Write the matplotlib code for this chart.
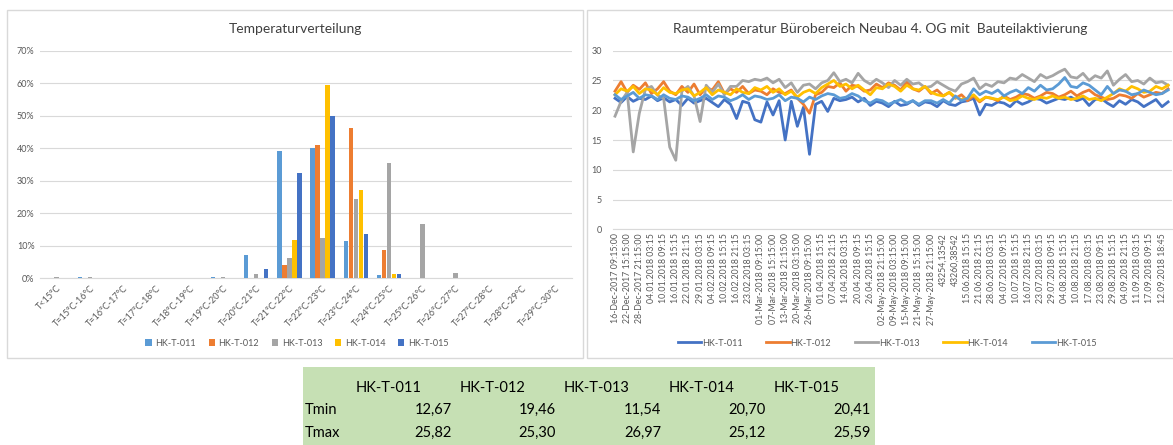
import numpy as np
import matplotlib
matplotlib.use("Agg")
import matplotlib.pyplot as plt
from matplotlib.patches import Rectangle

plt.rcParams['font.family'] = ['Lato', 'DejaVu Sans']

# ---- data: temperature distribution (share of time, %)
categories = ['T<15°C', 'T=15°C-16°C', 'T=16°C-17°C', 'T=17°C-18°C', 'T=18°C-19°C',
              'T=19°C-20°C', 'T=20°C-21°C', 'T=21°C-22°C', 'T=22°C-23°C', 'T=23°C-24°C',
              'T=24°C-25°C', 'T=25°C-26°C', 'T=26°C-27°C', 'T=27°C-28°C', 'T=28°C-29°C',
              'T=29°C-30°C']
series_names = ['HK-T-011', 'HK-T-012', 'HK-T-013', 'HK-T-014', 'HK-T-015']
share_011 = [0, 0.2, 0, 0, 0, 0.3, 7.2, 39.2, 40.0, 11.3, 1.0, 0, 0, 0, 0, 0]
share_012 = [0, 0, 0, 0, 0, 0, 0, 3.9, 41.1, 46.2, 8.5, 0, 0, 0, 0, 0]
share_013 = [0.4, 0.2, 0.1, 0.1, 0, 0.3, 1.3, 6.3, 12.3, 24.4, 35.3, 16.7, 1.5, 0, 0, 0]
share_014 = [0, 0, 0, 0, 0, 0, 0, 11.6, 59.5, 27.2, 1.3, 0, 0, 0, 0, 0]
share_015 = [0, 0, 0, 0, 0, 0, 2.8, 32.3, 49.9, 13.5, 1.3, 0, 0, 0, 0, 0]

# ---- data: room temperature time series (read off roughly, 2 values per label step)
time_labels = ['16-Dec-2017 09:15:00', '22-Dec-2017 15:15:00', '28-Dec-2017 21:15:00',
               '04.01.2018 03:15', '10.01.2018 09:15', '16.01.2018 15:15', '22.01.2018 21:15',
               '29.01.2018 03:15', '04.02.2018 09:15', '10.02.2018 15:15', '16.02.2018 21:15',
               '23.02.2018 03:15', '01-Mar-2018 09:15:00', '07-Mar-2018 15:15:00',
               '13-Mar-2018 21:15:00', '20-Mar-2018 03:15:00', '26-Mar-2018 09:15:00',
               '01.04.2018 15:15', '07.04.2018 21:15', '14.04.2018 03:15', '20.04.2018 09:15',
               '26.04.2018 15:15', '02-May-2018 21:15:00', '09-May-2018 03:15:00',
               '15-May-2018 09:15:00', '21-May-2018 15:15:00', '27-May-2018 21:15:00',
               '43254,13542', '43260,38542', '15.06.2018 15:15', '21.06.2018 21:15',
               '28.06.2018 03:15', '04.07.2018 09:15', '10.07.2018 15:15', '16.07.2018 21:15',
               '23.07.2018 03:15', '29.07.2018 09:15', '04.08.2018 15:15', '10.08.2018 21:15',
               '17.08.2018 03:15', '23.08.2018 09:15', '29.08.2018 15:15', '04.09.2018 21:15',
               '11.09.2018 03:15', '17.09.2018 09:15', '12.09.2018 18:45']

temp_011 = [22.0, 21.3, 22.3, 21.5, 22.0, 21.8, 22.4, 21.6, 22.1, 21.4,
            21.8, 20.8, 22.0, 21.2, 21.6, 22.0, 21.3, 20.6, 21.8, 21.0,
            18.6, 21.5, 21.2, 18.4, 18.0, 21.4, 19.2, 21.6, 15.0, 21.5,
            17.3, 20.5, 12.6, 21.0, 21.5, 19.8, 22.0, 21.6, 21.8, 22.2,
            21.4, 22.0, 20.8, 21.5, 21.2, 20.6, 21.5, 20.8, 21.0, 21.6,
            20.8, 21.4, 21.2, 20.6, 21.6, 21.0, 20.8, 21.4, 21.6, 22.0,
            19.2, 21.0, 20.8, 21.4, 21.2, 20.6, 21.6, 21.0, 21.4, 22.0,
            21.8, 21.2, 21.6, 22.0, 21.8, 22.2, 21.6, 22.0, 20.8, 21.8,
            22.0, 21.2, 20.6, 21.6, 21.0, 21.8, 21.4, 20.6, 21.2, 21.8,
            20.6, 21.4]
temp_012 = [23.2, 24.8, 23.0, 24.2, 23.5, 24.6, 22.8, 23.6, 24.8, 23.2,
            22.6, 24.0, 23.0, 24.4, 22.6, 23.8, 23.4, 24.8, 22.8, 23.6,
            23.0, 24.0, 22.8, 23.4, 23.2, 22.6, 23.6, 23.0, 22.8, 23.4,
            22.0, 21.0, 19.5, 22.6, 23.0, 24.0, 23.8, 24.6, 23.2, 24.2,
            24.0, 23.2, 23.4, 24.4, 23.8, 24.6, 24.2, 23.4, 24.8, 23.6,
            23.2, 24.0, 22.8, 23.4, 22.4, 23.0, 22.0, 22.6, 21.6, 22.4,
            21.4, 22.2, 22.0, 21.6, 22.4, 21.8, 22.2, 22.8, 22.6, 22.0,
            22.4, 23.0, 22.8, 22.2, 22.6, 23.2, 22.4, 23.0, 23.4, 22.6,
            22.2, 21.8, 22.0, 22.6, 22.4, 22.0, 22.8, 22.2, 22.6, 23.0,
            22.8, 23.6]
temp_013 = [19.0, 21.5, 23.0, 13.0, 19.5, 23.5, 24.0, 22.5, 22.0, 13.8,
            11.6, 23.2, 24.0, 22.4, 18.1, 24.2, 23.0, 24.4, 22.6, 24.0,
            24.0, 25.0, 24.8, 25.2, 25.0, 25.4, 24.6, 25.2, 23.8, 24.6,
            23.0, 24.2, 24.4, 23.6, 24.6, 25.0, 26.3, 24.8, 25.2, 24.6,
            26.2, 25.0, 24.4, 25.2, 24.6, 23.8, 25.0, 24.2, 25.2, 24.4,
            24.6, 23.8, 24.0, 24.8, 24.2, 23.6, 23.2, 24.4, 24.8, 25.4,
            23.6, 24.4, 24.0, 24.8, 24.6, 25.4, 25.2, 26.0, 25.4, 24.8,
            26.0, 25.4, 25.8, 26.4, 26.9, 25.6, 25.4, 26.2, 25.0, 25.8,
            25.4, 26.6, 24.2, 25.2, 26.0, 24.8, 25.0, 24.4, 25.4, 24.6,
            24.8, 24.2]
temp_014 = [22.6, 23.6, 23.2, 24.0, 22.8, 23.6, 23.4, 22.6, 23.8, 23.0,
            22.8, 23.4, 23.6, 22.4, 23.0, 23.8, 22.6, 23.4, 23.0, 22.6,
            23.6, 23.0, 22.8, 23.8, 23.4, 24.0, 23.0, 23.6, 22.6, 23.2,
            22.2, 23.0, 23.4, 22.8, 23.8, 24.4, 25.0, 24.0, 24.4, 23.6,
            24.2, 23.4, 22.6, 23.8, 23.6, 24.4, 24.0, 23.2, 24.2, 23.6,
            23.4, 24.0, 23.0, 22.6, 22.4, 23.0, 22.2, 21.8, 22.0, 22.6,
            21.6, 22.2, 22.0, 21.8, 22.2, 21.6, 21.8, 22.4, 22.0, 21.8,
            22.2, 22.0, 22.4, 22.0, 22.2, 21.8, 22.0, 22.4, 21.8, 22.0,
            21.6, 22.2, 22.8, 23.6, 23.2, 24.0, 23.6, 23.0, 23.2, 24.0,
            23.6, 24.2]
temp_015 = [22.6, 21.8, 22.4, 23.0, 22.0, 22.6, 22.4, 21.8, 22.6, 22.0,
            21.8, 22.4, 22.2, 21.6, 22.0, 22.6, 21.8, 22.4, 22.2, 21.6,
            22.0, 22.6, 21.8, 22.4, 22.2, 21.8, 22.0, 22.6, 21.6, 22.2,
            22.0, 21.4, 22.2, 21.8, 22.4, 22.8, 22.6, 22.0, 22.2, 22.8,
            22.4, 21.6, 21.2, 21.8, 21.6, 21.0, 21.4, 21.8, 21.2, 21.6,
            21.0, 21.6, 21.6, 21.2, 21.8, 21.2, 22.4, 21.6, 22.0, 23.6,
            22.6, 23.2, 22.8, 23.4, 22.4, 23.0, 23.4, 22.8, 23.8, 23.2,
            24.2, 23.4, 23.6, 24.4, 25.5, 24.0, 23.8, 24.6, 24.2, 23.4,
            22.6, 24.0, 22.8, 23.4, 23.2, 22.6, 22.8, 23.4, 23.0, 22.6,
            22.8, 23.4]

# ---- table values
table_rows = ['Tmin', 'Tmax']
tmin = ['12,67', '19,46', '11,54', '20,70', '20,41']
tmax = ['25,82', '25,30', '26,97', '25,12', '25,59']

W, H = 1173, 445
fig = plt.figure(figsize=(W / 100, H / 100), dpi=100)
fig.patch.set_facecolor('white')


def fx(px):
    return px / W


def fy(py):
    return 1 - py / H


# panel frames
for x0, x1 in [(7, 583), (587, 1175)]:
    fig.patches.append(Rectangle((fx(x0), fy(358)), fx(x1 - x0), (358 - 10) / H,
                                 transform=fig.transFigure, fill=False,
                                 edgecolor='#d9d9d9', linewidth=1.0))

grid_c = '#d9d9d9'
txt_c = '#595959'

# ---- left: bar chart
bar_colors = ['#5b9bd5', '#ed7d31', '#a5a5a5', '#ffc000', '#4472c4']
ax1 = fig.add_axes([fx(40), fy(278), fx(572 - 40), (278 - 50.7) / H])
x = np.arange(len(categories))
slot = 0.15
for k, (vals, name) in enumerate(zip([share_011, share_012, share_013, share_014, share_015],
                                     series_names)):
    ax1.bar(x + (k - 2) * slot, vals, width=0.13, color=bar_colors[k], label=name, zorder=3)
ax1.set_xlim(-0.5, len(categories) - 0.5)
ax1.set_ylim(0, 70)
ax1.set_yticks(np.arange(0, 71, 10))
ax1.set_yticklabels([f'{v}%' for v in range(0, 71, 10)])
ax1.set_xticks(x)
ax1.set_xticklabels(categories, rotation=45, ha='right', va='top', rotation_mode='anchor')
ax1.grid(axis='y', color=grid_c, linewidth=0.8, zorder=0)
for s in ['top', 'right', 'left']:
    ax1.spines[s].set_visible(False)
ax1.spines['bottom'].set_color(grid_c)
ax1.tick_params(axis='x', length=0, labelsize=6.5, labelcolor=txt_c, pad=4)
ax1.tick_params(axis='y', length=0, labelsize=6.5, labelcolor=txt_c, pad=4)
ax1.legend(loc='center', bbox_to_anchor=(fx(297), fy(343)), bbox_transform=fig.transFigure,
           ncol=5, frameon=False, fontsize=6.5, handlelength=0.7, handleheight=0.7,
           handletextpad=0.4, columnspacing=1.4, labelcolor=txt_c)
fig.text(fx(295), fy(29), 'Temperaturverteilung', ha='center', va='center',
         fontsize=10, color='#404040')

# ---- right: line chart
line_colors = ['#4472c4', '#ed7d31', '#a5a5a5', '#ffc000', '#5b9bd5']
ax2 = fig.add_axes([fx(613), fy(229.3), fx(1172 - 613), (229.3 - 50.7) / H])
n = len(temp_011)
t = np.arange(n)
for k, (vals, name) in enumerate(zip([temp_011, temp_012, temp_013, temp_014, temp_015],
                                     series_names)):
    ax2.plot(t, vals, color=line_colors[k], linewidth=2.0, label=name, zorder=3)
ax2.set_xlim(-0.33, n - 0.36)
ax2.set_ylim(0, 30)
ax2.set_yticks(np.arange(0, 31, 5))
ax2.set_xticks(np.arange(len(time_labels)) * 2)
ax2.set_xticklabels(time_labels, rotation=90, ha='center', va='top')
ax2.grid(axis='y', color=grid_c, linewidth=0.8, zorder=0)
for s in ['top', 'right', 'left']:
    ax2.spines[s].set_visible(False)
ax2.spines['bottom'].set_color(grid_c)
ax2.tick_params(axis='x', length=0, labelsize=6.3, labelcolor=txt_c, pad=3)
ax2.tick_params(axis='y', length=0, labelsize=6.5, labelcolor=txt_c, pad=8)
ax2.legend(loc='center', bbox_to_anchor=(fx(887), fy(343)), bbox_transform=fig.transFigure,
           ncol=5, frameon=False, fontsize=6.5, handlelength=2.6, handletextpad=0.1,
           columnspacing=2.6, labelcolor=txt_c)
fig.text(fx(880), fy(29), 'Raumtemperatur Bürobereich Neubau 4. OG mit  Bauteilaktivierung',
         ha='center', va='center', fontsize=10, color='#404040')

# ---- table below
fig.patches.append(Rectangle((fx(303), fy(446)), fx(875 - 303), (446 - 367) / H,
                             transform=fig.transFigure, facecolor='#c6e0b4',
                             edgecolor='none'))
col_left = [356, 460, 564, 669, 774]
col_right = [452, 556, 661, 766, 871]
for name, xl in zip(series_names, col_left):
    fig.text(fx(xl), fy(388), name, ha='left', va='center', fontsize=10.5, color='black')
for row, vals, yy in [(table_rows[0], tmin, 410), (table_rows[1], tmax, 433)]:
    fig.text(fx(305), fy(yy), row, ha='left', va='center', fontsize=10.5, color='black')
    for v, xr in zip(vals, col_right):
        fig.text(fx(xr), fy(yy), v, ha='right', va='center', fontsize=10.5, color='black')

fig.savefig('out.png', dpi=100)
